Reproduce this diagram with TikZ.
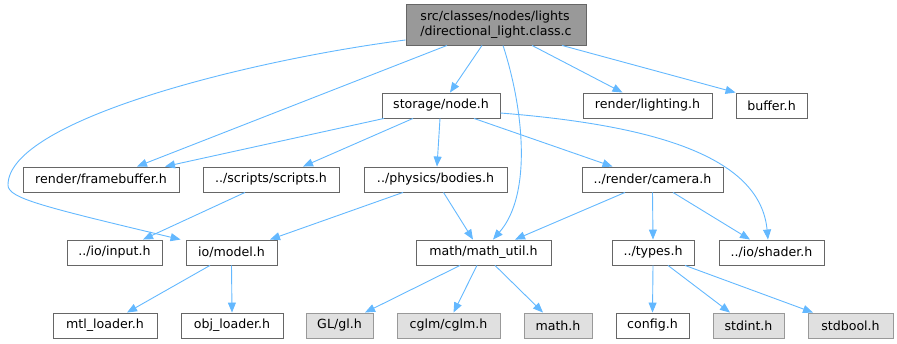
\documentclass[tikz,border=0pt]{standalone}
\usepackage{fontspec}
\setmainfont{DejaVu Sans}
\usetikzlibrary{arrows.meta}
\definecolor{edgeblue}{HTML}{63B8FF}
\definecolor{boxline}{HTML}{666666}
\definecolor{sysfill}{HTML}{E0E0E0}
\definecolor{sysline}{HTML}{999999}
\definecolor{rootfill}{HTML}{999999}
\begin{document}
\begin{tikzpicture}[x=1pt,y=-1pt,
  hdr/.style={draw=boxline,line width=0.9pt,fill=white,inner sep=0pt,
    minimum height=25pt,font=\fontsize{12.6}{15}\selectfont},
  syshdr/.style={hdr,draw=sysline,fill=sysfill},
  rootbox/.style={hdr,fill=rootfill,minimum height=41pt,align=left},
  dep/.style={draw=edgeblue,line width=0.9pt,-{Triangle[length=10pt,width=8pt]}}]
\useasboundingbox (0,0) rectangle (897,344);

% file being documented
\node[rootbox,minimum width=180pt] (root) at (496,24.5) {src/classes/nodes/lights\\/directional\_light.class.c};

% first level
\node[hdr,minimum width=118pt] (node) at (441,105.5) {storage/node.h};
\node[hdr,minimum width=129pt] (lighting) at (647.5,105.5) {render/lighting.h};
\node[hdr,minimum width=71pt] (buffer) at (771.5,105.5) {buffer.h};

% second level
\node[hdr,minimum width=156pt] (framebuffer) at (101,179.5) {render/framebuffer.h};
\node[hdr,minimum width=136pt] (scripts) at (271,179.5) {../scripts/scripts.h};
\node[hdr,minimum width=143pt] (bodies) at (435.5,179.5) {../physics/bodies.h};
\node[hdr,minimum width=141pt] (camera) at (652.5,179.5) {../render/camera.h};

% third level
\node[hdr,minimum width=95pt] (input) at (114.5,252.5) {../io/input.h};
\node[hdr,minimum width=91pt] (model) at (231.5,252.5) {io/model.h};
\node[hdr,minimum width=135pt] (mathutil) at (483.5,252.5) {math/math\_util.h};
\node[hdr,minimum width=82pt] (types) at (653,252.5) {../types.h};
\node[hdr,minimum width=105pt] (shader) at (771.5,252.5) {../io/shader.h};

% leaves
\node[hdr,minimum width=104pt] (mtl) at (105,325.5) {mtl\_loader.h};
\node[hdr,minimum width=102pt] (obj) at (232,325.5) {obj\_loader.h};
\node[syshdr,minimum width=67pt] (gl) at (339.5,325.5) {GL/gl.h};
\node[syshdr,minimum width=103pt] (cglm) at (448.5,325.5) {cglm/cglm.h};
\node[syshdr,minimum width=68pt] (math) at (558,325.5) {math.h};
\node[hdr,minimum width=73pt] (config) at (652.5,325.5) {config.h};
\node[syshdr,minimum width=71pt] (stdint) at (748.5,325.5) {stdint.h};
\node[syshdr,minimum width=85pt] (stdbool) at (850.5,325.5) {stdbool.h};

% includes of the source file
\draw[dep] ([xshift=-14pt]root.south) -- ([xshift=9pt]node.north);
\draw[dep] ([xshift=36pt]root.south) -- ([xshift=-25pt]lighting.north);
\draw[dep] ([xshift=66pt]root.south) -- (buffer.north west);
\draw[dep] ([xshift=-49pt]root.south) -- ([xshift=36pt]framebuffer.north);
\draw[dep] ([yshift=-15.5pt]root.west) .. controls (250,60) and (8,120) .. (8,185)
  .. controls (8,198) and (40,206) .. ([xshift=-5pt]model.north west);
\draw[dep] ([xshift=7pt]root.south) .. controls (524,110) and (532,195) .. ([xshift=9.5pt]mathutil.north);

% storage/node.h
\draw[dep] ([xshift=-57pt]node.south) -- ([xshift=64pt]framebuffer.north);
\draw[dep] ([xshift=-28pt]node.south) -- ([xshift=32pt]scripts.north);
\draw[dep] ([xshift=-1pt]node.south) -- ([xshift=1.5pt]bodies.north);
\draw[dep] ([xshift=33pt]node.south) -- ([xshift=-40pt]camera.north);
\draw[dep] ([yshift=-7.5pt]node.east) .. controls (650,125) and (760,155) .. ([xshift=-3.5pt]shader.north);

% second level includes
\draw[dep] ([xshift=-26pt]scripts.south) -- ([xshift=28.5pt]input.north);
\draw[dep] ([xshift=-32.5pt]bodies.south) -- ([xshift=38.5pt]model.north);
\draw[dep] ([xshift=8pt]bodies.south) -- ([xshift=-10.5pt]mathutil.north);
\draw[dep] ([xshift=-27.5pt]camera.south) -- ([xshift=31.5pt]mathutil.north);
\draw[dep] (camera.south) -- (types.north);
\draw[dep] ([xshift=20.5pt]camera.south) -- ([xshift=-21.5pt]shader.north);

% third level includes
\draw[dep] ([xshift=-21.5pt]model.south) -- ([xshift=22pt]mtl.north);
\draw[dep] (model.south) -- (obj.north);
\draw[dep] ([xshift=-23.5pt]mathutil.south) -- ([xshift=25.5pt]gl.north);
\draw[dep] ([xshift=-6.5pt]mathutil.south) -- ([xshift=5pt]cglm.north);
\draw[dep] ([xshift=11.5pt]mathutil.south) -- ([xshift=-15pt]math.north);
\draw[dep] (types.south) -- (config.north);
\draw[dep] ([xshift=15pt]types.south) -- ([xshift=-18.5pt]stdint.north);
\draw[dep] ([xshift=32pt]types.south) -- ([xshift=-37.5pt]stdbool.north);
\end{tikzpicture}
\end{document}
